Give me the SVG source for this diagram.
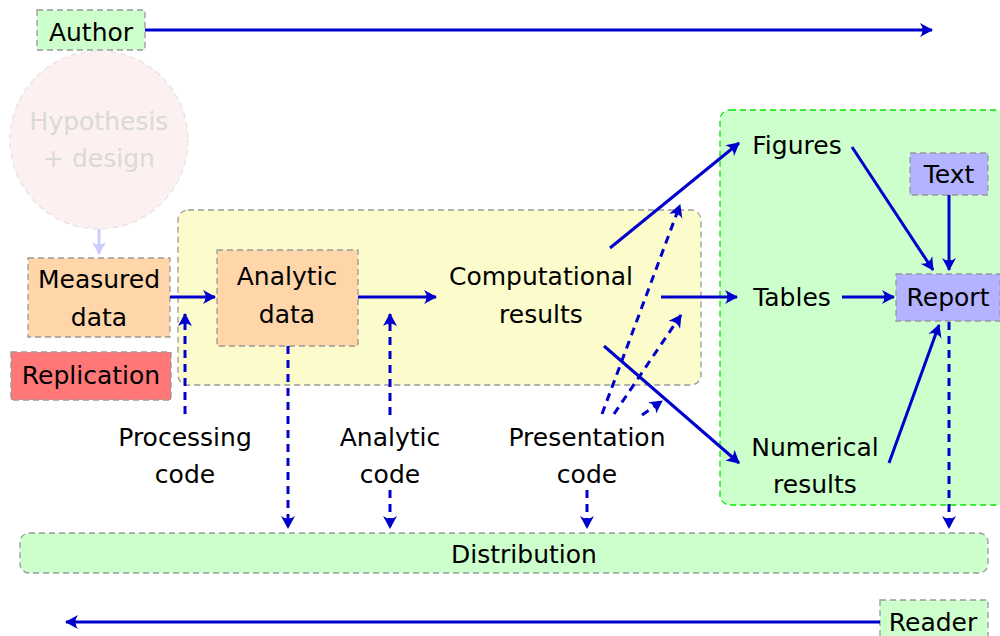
<svg xmlns="http://www.w3.org/2000/svg" width="1000" height="636" viewBox="0 0 1000 636">
<style>
text{font-family:"DejaVu Sans","Liberation Sans",sans-serif;font-size:25px;fill:#000;text-anchor:middle}
.box{stroke:#999;stroke-width:1.3;stroke-dasharray:6,4}
.g{fill:#ccffcc}.p{fill:#ffd5aa}.l{fill:#b3b3ff}
.c{fill:none;stroke:#0000cc;stroke-width:3;marker-end:url(#ah)}
.d{stroke-dasharray:8,6}
</style>
<defs>
<marker id="ah" viewBox="-14 -9 16 18" refX="0" refY="0" markerWidth="16" markerHeight="18" orient="auto" markerUnits="userSpaceOnUse"><path d="M1,0 L-12,-7 Q-7,0 -12,7 Z" fill="#0000cc"/></marker>
<marker id="ahl" viewBox="-14 -9 16 18" refX="0" refY="0" markerWidth="16" markerHeight="18" orient="auto" markerUnits="userSpaceOnUse"><path d="M1,0 L-12,-7 Q-7,0 -12,7 Z" fill="#ccccff"/></marker>
</defs>

<g id="yellow-region"><rect x="178" y="210" width="523" height="175" rx="10" fill="#fcfbcb" class="box"/></g>
<g id="green-region"><rect x="720" y="110" width="290" height="395" rx="10" fill="#ccffcc" stroke="#00e600" stroke-width="1.3" stroke-dasharray="6,4"/></g>

<g id="author"><rect x="37" y="10" width="108" height="40" class="box g"/><text x="91" y="41">Author</text></g>
<g id="hypothesis"><circle cx="99" cy="140" r="89" fill="#fdf0f0" stroke="#e3e3e3" stroke-width="1.2" stroke-dasharray="6,4"/><text x="99" y="130" style="fill:#d9d9d9">Hypothesis</text><text x="99" y="167" style="fill:#d9d9d9">+ design</text></g>
<g id="measured"><rect x="28" y="258" width="142" height="79" class="box p"/><text x="99" y="288">Measured</text><text x="99" y="326">data</text></g>
<g id="replication"><rect x="11" y="352" width="160" height="48" class="box" fill="#ff7777"/><text x="91" y="384">Replication</text></g>
<g id="analytic-data"><rect x="217" y="250" width="141" height="96" class="box p"/><text x="287" y="285">Analytic</text><text x="287" y="323">data</text></g>
<g id="computational"><text x="541" y="285">Computational</text><text x="541" y="323">results</text></g>
<g id="figures"><text x="797" y="154">Figures</text></g>
<g id="tables"><text x="792" y="306">Tables</text></g>
<g id="numerical"><text x="815" y="456">Numerical</text><text x="815" y="493">results</text></g>
<g id="text-node"><rect x="910" y="153" width="78" height="42" class="box l"/><text x="949" y="183">Text</text></g>
<g id="report"><rect x="896" y="274" width="104" height="47" class="box l"/><text x="948" y="306">Report</text></g>
<g id="processing-code"><text x="185" y="446">Processing</text><text x="185" y="483">code</text></g>
<g id="analytic-code"><text x="390" y="446">Analytic</text><text x="390" y="483">code</text></g>
<g id="presentation-code"><text x="587" y="446">Presentation</text><text x="587" y="483">code</text></g>
<g id="distribution"><rect x="20" y="533" width="968" height="40" rx="9" class="box g"/><text x="524" y="563">Distribution</text></g>
<g id="reader"><rect x="880" y="600" width="108" height="40" class="box g"/><text x="933" y="631">Reader</text></g>

<g id="connectors">
<path class="c" d="M145,30 H932"/>
<path d="M99,229 V254" fill="none" stroke="#ccccff" stroke-width="3" marker-end="url(#ahl)"/>
<path class="c" d="M170,297 H215"/>
<path class="c" d="M358,297 H436"/>
<path class="c" d="M610,248 L739,143"/>
<path class="c" d="M661,297 H737"/>
<path class="c" d="M604,346 L739,463"/>
<path class="c" d="M852,147 L933,270"/>
<path class="c" d="M949,195 V270"/>
<path class="c" d="M842,297 H894"/>
<path class="c" d="M889,463 L939,325"/>
<path class="c" d="M880,622 H66"/>
<path class="c d" d="M185,414 V314"/>
<path class="c d" d="M288,346 V528"/>
<path class="c d" d="M390,415 V314"/>
<path class="c d" d="M390,490 V528"/>
<path class="c d" d="M587,490 V528"/>
<path class="c d" d="M949,322 V528"/>
<path class="c d" d="M602,414 L680,205"/>
<path class="c d" d="M614,414 L681,315"/>
<path class="c d" d="M642,415 L662,401"/>
</g>
</svg>
